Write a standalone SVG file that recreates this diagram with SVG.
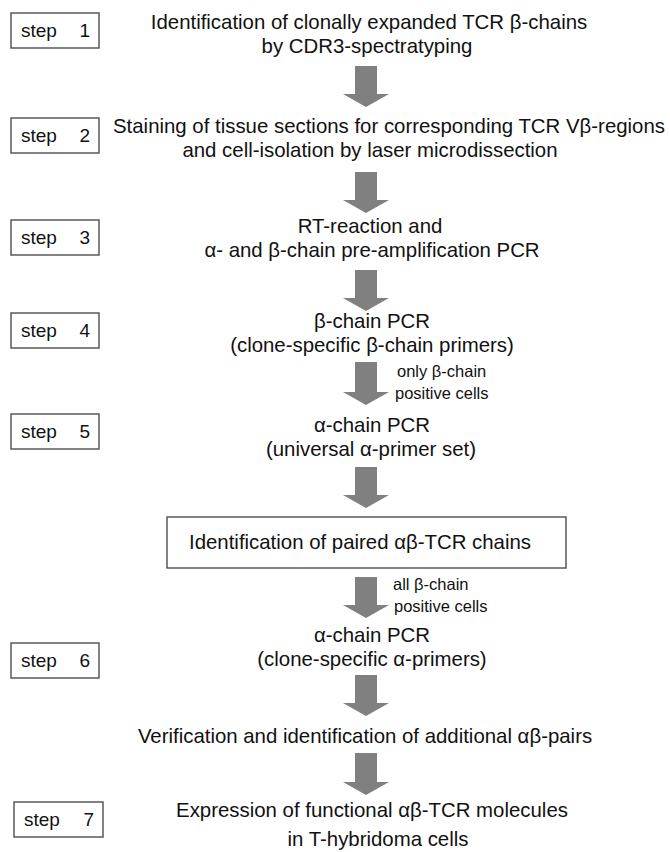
<svg xmlns="http://www.w3.org/2000/svg" width="670" height="852" viewBox="0 0 670 852">
<style>
  .bg { fill: #ffffff; }
  .box { fill: #ffffff; stroke: #4d4d4d; stroke-width: 1.4; }
  .t { font-family: "Liberation Sans", Arial, sans-serif; font-size: 20.4px; fill: #111111; text-anchor: middle; }
  .s { font-family: "Liberation Sans", Arial, sans-serif; font-size: 19px; fill: #111111; }
  .l { font-family: "Liberation Sans", Arial, sans-serif; font-size: 16.5px; fill: #111111; }
  .arrow { fill: #808080; }
</style>
<rect class="bg" x="0" y="0" width="670" height="852"/>

<g id="connectors">
  <path class="arrow" d="M355,66 H377 V94 H389 L366,107 L343,94 H355 Z"/>
  <path class="arrow" d="M355,172 H377 V200 H389 L366,213 L343,200 H355 Z"/>
  <path class="arrow" d="M355,270 H377 V298 H389 L366,311 L343,298 H355 Z"/>
  <g id="arrow4">
    <path class="arrow" d="M355,362 H377 V392 H389 L366,405 L343,392 H355 Z"/>
    <text class="l" x="397" y="377">only β-chain</text>
    <text class="l" x="395" y="399">positive cells</text>
  </g>
  <path class="arrow" d="M355,467 H377 V495 H389 L366,508 L343,495 H355 Z"/>
  <g id="arrow6">
    <path class="arrow" d="M355,577 H377 V605 H389 L366,618 L343,605 H355 Z"/>
    <text class="l" x="393" y="590">all β-chain</text>
    <text class="l" x="394" y="612">positive cells</text>
  </g>
  <path class="arrow" d="M355,675 H377 V703 H389 L366,716 L343,703 H355 Z"/>
  <path class="arrow" d="M355,753 H377 V782 H389 L366,795 L343,782 H355 Z"/>
</g>

<g id="step1">
  <rect class="box" x="11" y="13" width="88" height="35"/>
  <text class="s" x="21" y="37">step</text>
  <text class="s" x="90" y="37" text-anchor="end">1</text>
  <text class="t" x="369" y="29">Identification of clonally expanded TCR β-chains</text>
  <text class="t" x="367" y="53">by CDR3-spectratyping</text>
</g>

<g id="step2">
  <rect class="box" x="11" y="118" width="88" height="35"/>
  <text class="s" x="21" y="142">step</text>
  <text class="s" x="90" y="142" text-anchor="end">2</text>
  <text class="t" x="389" y="133">Staining of tissue sections for corresponding TCR Vβ-regions</text>
  <text class="t" x="370" y="157">and cell-isolation by laser microdissection</text>
</g>

<g id="step3">
  <rect class="box" x="11" y="220" width="88" height="35"/>
  <text class="s" x="21" y="244">step</text>
  <text class="s" x="90" y="244" text-anchor="end">3</text>
  <text class="t" x="370" y="233">RT-reaction and</text>
  <text class="t" x="372" y="257">α- and β-chain pre-amplification PCR</text>
</g>

<g id="step4">
  <rect class="box" x="11" y="313" width="88" height="35"/>
  <text class="s" x="21" y="337">step</text>
  <text class="s" x="90" y="337" text-anchor="end">4</text>
  <text class="t" x="372" y="328">β-chain PCR</text>
  <text class="t" x="372" y="352">(clone-specific β-chain primers)</text>
</g>

<g id="step5">
  <rect class="box" x="11" y="414" width="88" height="35"/>
  <text class="s" x="21" y="438">step</text>
  <text class="s" x="90" y="438" text-anchor="end">5</text>
  <text class="t" x="372" y="432">α-chain PCR</text>
  <text class="t" x="371" y="456">(universal α-primer set)</text>
</g>

<g id="paired">
  <rect class="box" x="167" y="517" width="399" height="51"/>
  <text class="t" x="360" y="549">Identification of paired αβ-TCR chains</text>
</g>

<g id="step6">
  <rect class="box" x="11" y="643" width="88" height="35"/>
  <text class="s" x="21" y="667">step</text>
  <text class="s" x="90" y="667" text-anchor="end">6</text>
  <text class="t" x="372" y="642">α-chain PCR</text>
  <text class="t" x="372" y="666">(clone-specific α-primers)</text>
</g>

<g id="verification">
  <text class="t" x="365" y="743">Verification and identification of additional αβ-pairs</text>
</g>

<g id="step7">
  <rect class="box" x="14" y="802" width="89" height="35"/>
  <text class="s" x="24" y="826">step</text>
  <text class="s" x="94" y="826" text-anchor="end">7</text>
  <text class="t" x="372" y="817">Expression of functional αβ-TCR molecules</text>
  <text class="t" x="378" y="846">in T-hybridoma cells</text>
</g>
</svg>
